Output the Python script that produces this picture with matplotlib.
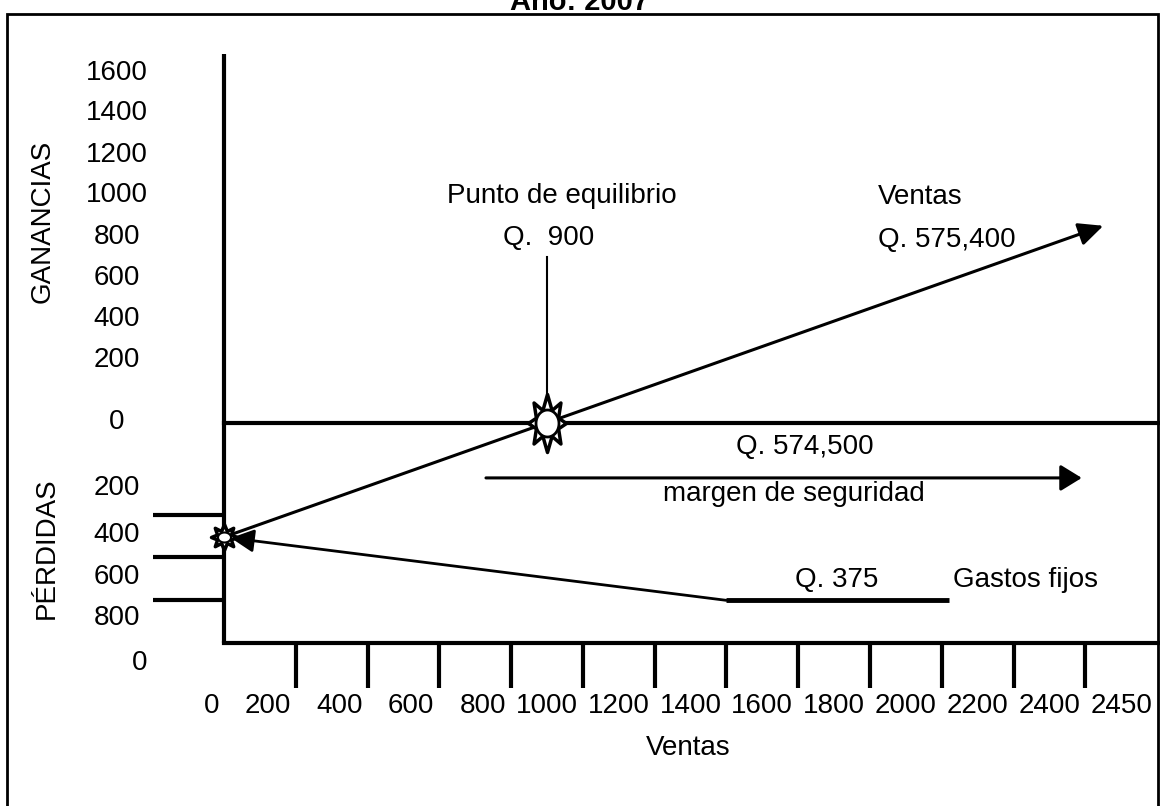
import matplotlib
matplotlib.use("Agg")
import matplotlib.pyplot as plt
import numpy as np
from matplotlib import font_manager
from matplotlib.patches import Rectangle
from matplotlib.path import Path

########################################################################################################################
# Data (in chart units: x = ventas, y = ganancias / perdidas)

x_tick_values = [200, 400, 600, 800, 1000, 1200, 1400, 1600, 1800, 2000, 2200, 2400]
x_label_text = ["0", "200", "400", "600", "800", "1000", "1200", "1400", "1600",
                "1800", "2000", "2200", "2400", "2450"]
x_label_pos = [0, 200, 400, 600, 800, 1000, 1200, 1400, 1600, 1800, 2000, 2200, 2400, 2600]

gain_label_text = ["1600", "1400", "1200", "1000", "800", "600", "400", "200", "0"]
gain_label_pos = [1687, 1494, 1292, 1099, 896, 699, 501, 304, 5]
loss_label_text = ["200", "400", "600", "800"]
loss_label_pos = [-313, -540, -742, -940]
loss_ticks = [-445, -645, -855]

axis_top = 1780
axis_bottom = -1060

sales_x = [0, 2450]
sales_y = [-550, 950]
breakeven_x = 900
breakeven_y = 0
breakeven_stem = [145, 800]

fixed_x = [0, 1400, 2020]
fixed_y = [-550, -855, -855]

margin_x = [730, 2390]
margin_y = -265

########################################################################################################################
# Helper functions


def star_marker(rx_out, ry_out, rx_in, ry_in, n=8):
    angles = np.linspace(0, 2 * np.pi, 2 * n, endpoint=False) + np.pi / 2
    outer = np.arange(2 * n) % 2 == 0
    rx = np.where(outer, rx_out, rx_in)
    ry = np.where(outer, ry_out, ry_in)
    verts = np.column_stack([rx * np.cos(angles), ry * np.sin(angles)])
    verts = np.vstack([verts, verts[:1]])
    return Path(verts, closed=True)


def ellipse_marker(rx, ry, n=60):
    t = np.linspace(0, 2 * np.pi, n)
    verts = np.column_stack([rx * np.cos(t), ry * np.sin(t)])
    return Path(verts, closed=True)


def px_to_pt(px):
    return px * 72 / 100

########################################################################################################################
# Main


try:
    font_manager.findfont("Liberation Sans Narrow", fallback_to_default=False)
    num_font, num_size = "Liberation Sans Narrow", 22
except ValueError:
    num_font, num_size = "Liberation Sans", 20

word_font = "Liberation Sans"
word_size = 20

fig = plt.figure(figsize=(11.6, 8.06), dpi=100)
ax = fig.add_axes([0, 0, 1, 1])
ax.set_xlim(-624, 2608)
ax.set_ylim(-1846, 2038)
ax.axis("off")
x_right = ax.get_xlim()[1]

# frame and (cut off) title
ax.add_patch(Rectangle((-605, -1950), 3207, 3921, fill=False, lw=2, ec="black", clip_on=False))
ax.text(0.5, 1 - 10 / 806, "Año: 2007", transform=ax.transAxes, ha="center", va="baseline",
        fontsize=21, fontweight="bold", family=word_font)

# axes lines
ax.plot([0, 0], [axis_bottom, axis_top], color="black", lw=3, solid_capstyle="butt")
ax.plot([0, x_right], [0, 0], color="black", lw=3)
ax.plot([0, x_right], [axis_bottom, axis_bottom], color="black", lw=3)
ax.vlines(x_tick_values, axis_bottom, -1277, color="black", lw=3)
ax.hlines(loss_ticks, -198, 0, color="black", lw=3)

# tick labels
for txt, pos in zip(x_label_text, x_label_pos):
    ax.text(pos - 14, -1364, txt, ha="right", va="center", fontsize=num_size, family=num_font)
for txt, pos in zip(gain_label_text, gain_label_pos):
    ax.text(-298, pos, txt, ha="center", va="center", fontsize=num_size, family=num_font)
for txt, pos in zip(loss_label_text, loss_label_pos):
    ax.text(-298, pos, txt, ha="center", va="center", fontsize=num_size, family=num_font)
ax.text(-234, -1157, "0", ha="center", va="center", fontsize=num_size, family=num_font)

ax.text(-504, 969, "GANANCIAS", rotation=90, ha="center", va="center", fontsize=word_size, family=word_font)
ax.text(-493, -602, "PÉRDIDAS", rotation=90, ha="center", va="center", fontsize=word_size, family=word_font)
ax.text(1293, -1566, "Ventas", ha="center", va="center", fontsize=word_size, family=word_font)

# sales line
ax.annotate("", xy=(sales_x[1], sales_y[1]), xytext=(sales_x[0], sales_y[0]),
            arrowprops=dict(arrowstyle="-|>,head_length=0.75,head_width=0.35", mutation_scale=20,
                            color="black", lw=2.2, shrinkA=0, shrinkB=0))

# fixed costs line
ax.plot(fixed_x[1:], fixed_y[1:], color="black", lw=3.5, solid_capstyle="butt")
ax.annotate("", xy=(fixed_x[0], fixed_y[0]), xytext=(fixed_x[1], fixed_y[1]),
            arrowprops=dict(arrowstyle="-|>,head_length=0.7,head_width=0.35", mutation_scale=20,
                            color="black", lw=2, shrinkA=0, shrinkB=5))

# safety margin arrow
ax.annotate("", xy=(margin_x[1], margin_y), xytext=(margin_x[0], margin_y),
            arrowprops=dict(arrowstyle="-|>,head_length=0.65,head_width=0.4", mutation_scale=20,
                            color="black", lw=2.2, shrinkA=0, shrinkB=0))

# break-even stem
ax.plot([breakeven_x, breakeven_x], breakeven_stem, color="black", lw=1.5)

# stars
big_star = star_marker(19, 29, 12, 14)
big_oval = ellipse_marker(11.5, 13.5)
ax.plot(breakeven_x, breakeven_y, marker=big_star, ms=px_to_pt(58), mfc="white", mec="black", mew=2.5, zorder=5)
ax.plot(breakeven_x, breakeven_y, marker=big_oval, ms=px_to_pt(27), mfc="white", mec="black", mew=2, zorder=6)

small_star = star_marker(13, 13, 7.5, 6.5)
small_oval = ellipse_marker(6.5, 5)
ax.plot(sales_x[0], sales_y[0], marker=small_star, ms=px_to_pt(26), mfc="white", mec="black", mew=2.5, zorder=5)
ax.plot(sales_x[0], sales_y[0], marker=small_oval, ms=px_to_pt(13), mfc="white", mec="black", mew=1.5, zorder=6)

# annotations
ax.text(942, 1094, "Punto de equilibrio", ha="center", va="center", fontsize=word_size, family=word_font)
ax.text(777, 892, "Q.  900", ha="left", va="center", fontsize=word_size, family=word_font)
ax.text(1822, 1089, "Ventas", ha="left", va="center", fontsize=word_size, family=word_font)
ax.text(1822, 882, "Q. 575,400", ha="left", va="center", fontsize=word_size, family=word_font)
ax.text(1619, -116, "Q. 574,500", ha="center", va="center", fontsize=word_size, family=word_font)
ax.text(1588, -342, "margen de seguridad", ha="center", va="center", fontsize=word_size, family=word_font)
ax.text(1708, -757, "Q. 375", ha="center", va="center", fontsize=word_size, family=word_font)
ax.text(2031, -757, "Gastos fijos", ha="left", va="center", fontsize=word_size, family=word_font)

fig.savefig("out.png", dpi=100)
